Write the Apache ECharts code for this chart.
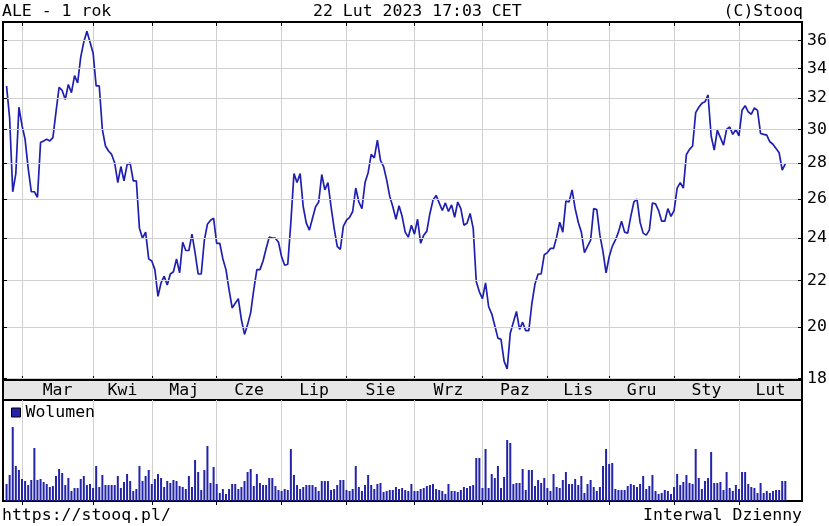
<!DOCTYPE html>
<html>
<head>
<meta charset="utf-8">
<script src="https://cdn.jsdelivr.net/npm/echarts@6/dist/echarts.min.js"></script>
<style>
html,body{margin:0;padding:0;background:#fff;}
#chart{width:829px;height:526px;}
</style>
</head>
<body>
<div id="chart"></div>
<script>
// ---------- data ----------
const firstDay = '2022-02-22';
const lastDay = '2023-02-22';
const holidays = ['2022-04-15','2022-04-18','2022-05-03','2022-06-16','2022-08-15','2022-11-01','2022-11-11','2022-12-26','2023-01-06'];
const monthNames = ['Sty','Lut','Mar','Kwi','Maj','Cze','Lip','Sie','Wrz','Paz','Lis','Gru'];
const priceTicks = [18,20,22,24,26,28,30,32,34,36];

const close = [
32.8,30.7,26.4,27.4,31.4,30.25,29.4,27.7,26.4,26.4,
26.1,29.2,29.3,29.4,29.3,29.5,31.1,32.7,32.5,31.9,
32.9,32.35,33.5,33.0,34.8,35.9,36.7,35.9,35.1,32.8,
32.8,30.0,29.0,28.7,28.5,28.0,26.9,27.8,27.0,27.9,
28.0,27.0,27.0,24.5,24.0,24.3,23.0,22.9,22.5,21.3,
21.9,22.2,21.8,22.3,22.4,23.0,22.35,23.8,23.4,23.4,
24.2,23.3,22.3,22.3,23.9,24.7,24.9,25.0,23.75,23.75,
23.0,22.5,21.6,20.8,21.0,21.2,20.3,19.7,20.1,20.6,
21.6,22.5,22.5,22.9,23.5,24.05,24.0,24.0,23.8,23.1,
22.7,22.75,24.8,27.4,26.9,27.4,25.6,24.75,24.4,25.0,
25.6,25.85,27.35,26.5,26.9,25.6,24.5,23.6,23.45,24.6,
24.9,25.05,25.35,26.6,25.85,25.5,26.9,27.45,28.5,28.3,
29.35,28.15,27.8,27.05,26.15,25.6,24.95,25.65,25.1,24.3,
24.05,24.65,24.2,24.95,23.75,24.15,24.35,25.25,25.95,26.2,
25.8,25.4,25.8,25.35,25.7,25.05,25.85,25.5,24.65,24.75,
25.25,24.5,21.95,21.5,21.2,21.9,20.85,20.55,20.05,19.55,
19.5,18.65,18.35,19.75,20.2,20.65,19.9,20.2,19.85,19.85,
21.0,21.85,22.3,22.3,23.2,23.3,23.5,23.5,24.05,24.8,
24.3,25.9,25.85,26.5,25.5,24.8,24.3,23.3,23.6,23.9,
25.5,25.45,24.15,23.35,22.35,23.1,23.6,23.9,24.3,24.85,
24.3,24.25,25.1,25.85,26.0,24.8,24.25,24.15,24.4,25.8,
25.75,25.4,24.85,24.85,25.5,25.1,25.4,26.6,26.9,26.6,
28.5,28.8,29.0,31.05,31.4,31.65,31.75,32.2,29.6,28.75,
29.95,29.5,29.05,30.0,30.15,29.7,30.0,29.6,31.2,31.5,
31.1,30.95,31.35,31.2,29.75,29.7,29.65,29.25,29.1,28.85,
28.6,27.6,27.95
];

const volume = [
17,26,74,35,31,22,20,16,21,53,
21,22,19,17,14,15,25,32,28,16,
23,10,13,13,22,25,16,17,13,35,
14,26,16,16,16,16,25,13,19,27,
20,10,12,35,20,25,31,17,22,27,
23,14,20,18,21,20,15,14,12,25,
14,41,29,11,31,55,18,34,17,8,
12,7,12,17,17,12,14,20,29,32,
15,27,18,16,16,23,23,15,11,10,
12,11,52,26,16,12,14,16,16,16,
14,10,20,20,20,11,12,16,21,21,
11,10,12,35,14,10,16,26,16,12,
17,18,9,10,11,11,14,12,13,11,
10,
17,10,10,12,13,15,16,17,12,11,
10,7,17,10,10,9,11,14,13,15,
16,43,43,13,52,13,27,23,35,13,
24,61,58,17,18,18,32,11,31,31,
15,21,18,23,13,10,27,14,13,21,
29,17,17,22,16,25,8,17,21,14,
10,14,35,52,37,38,12,11,11,11,
15,17,16,14,17,25,12,15,26,10,
7,8,11,10,7,14,27,16,19,26,
18,17,52,23,12,20,23,49,18,18,
19,11,29,13,10,16,12,29,29,17,
14,13,8,18,8,10,8,10,11,11,
20,20
];

// ---------- trading-day categories ----------
function ymd(d){return d.toISOString().slice(0,10);}
const dates = [];
{
  const end = new Date(lastDay + 'T00:00:00Z');
  for (let d = new Date(firstDay + 'T00:00:00Z'); d <= end; d = new Date(d.getTime() + 86400000)) {
    const wd = d.getUTCDay();
    if (wd === 0 || wd === 6) continue;
    const s = ymd(d);
    if (holidays.indexOf(s) >= 0) continue;
    dates.push(s);
  }
}

// layout of the x scale (index units)
const xMin = -1.15, xMax = 257.4;

const monthStarts = [];
const monthStartNames = [];
for (let i = 1; i < dates.length; i++) {
  if (dates[i].slice(5,7) !== dates[i-1].slice(5,7)) {
    monthStarts.push(i);
    monthStartNames.push(monthNames[parseInt(dates[i].slice(5,7),10)-1]);
  }
}
const labelPos = [];
const labelName = {};
for (let k = 0; k < monthStarts.length; k++) {
  const a = monthStarts[k];
  const b = k + 1 < monthStarts.length ? monthStarts[k+1] : xMax;
  const p = (a + b) / 2;
  labelPos.push(p);
  labelName[p.toFixed(3)] = monthStartNames[k];
}

const FONT = "'DejaVu Sans Mono', 'Liberation Mono', monospace";
const FS = 16.5;
const textStyle = {fontFamily: FONT, fontSize: FS, fontWeight: 'normal', color: '#000'};

const priceData = close.map((v, i) => [i, v]);
const volData = volume.map((v, i) => [i, v]);

const gridLineMarks = priceTicks.map(v => ({yAxis: v}));
const tickMarks = [];
priceTicks.forEach(v => {
  tickMarks.push([{coord: [xMin, v]}, {coord: [xMin + 1.3, v]}]);
  tickMarks.push([{coord: [xMax - 1.3, v]}, {coord: [xMax, v]}]);
});

const chart = echarts.init(document.getElementById('chart'), null, {renderer: 'canvas'});
chart.setOption({
  animation: false,
  backgroundColor: '#ffffff',
  title: [
    {text: 'ALE - 1 rok', left: 2, top: 3, padding: 0, textStyle},
    {text: '22 Lut 2023 17:03 CET', left: 313, top: 3, padding: 0, textStyle},
    {text: '(C)Stooq', right: 26, top: 3, padding: 0, textStyle},
    {text: 'https://stooq.pl/', left: 2, top: 507, padding: 0, textStyle},
    {text: 'Interwal Dzienny', right: 27, top: 507, padding: 0, textStyle}
  ],
  legend: {
    data: ['Wolumen'], left: 11, top: 404, padding: 0, selectedMode: false,
    icon: 'rect', itemWidth: 9, itemHeight: 9, itemGap: 5,
    itemStyle: {borderColor: '#000', borderWidth: 1},
    textStyle: {fontFamily: FONT, fontSize: FS, color: '#000'}
  },
  graphic: [
    {type: 'rect', z: -1, shape: {x: 3, y: 380, width: 799, height: 20},
     style: {fill: '#e6e6e6', stroke: '#000', lineWidth: 2}}
  ],
  grid: [
    {left: 3, top: 22, width: 799, height: 358, show: true, borderColor: '#000', borderWidth: 2, backgroundColor: 'rgba(0,0,0,0)'},
    {left: 3, top: 400, width: 799, height: 101, show: true, borderColor: '#000', borderWidth: 2, backgroundColor: 'rgba(0,0,0,0)'}
  ],
  xAxis: [
    {gridIndex: 0, type: 'value', min: xMin, max: xMax, position: 'bottom',
     axisLine: {show: false},
     axisTick: {show: true, inside: true, length: 4, customValues: monthStarts, lineStyle: {color: '#000', width: 1}},
     splitLine: {show: true, lineStyle: {color: '#d0d0d0', width: 1}},
     axisLabel: {show: true, customValues: labelPos, margin: 2, fontFamily: FONT, fontSize: FS, color: '#000',
                 formatter: v => labelName[Number(v).toFixed(3)] || ''}},
    {gridIndex: 0, type: 'value', min: xMin, max: xMax, position: 'top',
     axisLine: {show: false},
     axisTick: {show: true, inside: true, length: 4, customValues: monthStarts, lineStyle: {color: '#000', width: 1}},
     splitLine: {show: false}, axisLabel: {show: false}},
    {gridIndex: 1, type: 'value', min: xMin, max: xMax, position: 'top',
     axisLine: {show: false},
     axisTick: {show: true, inside: true, length: 4, customValues: monthStarts, lineStyle: {color: '#000', width: 1}},
     splitLine: {show: true, lineStyle: {color: '#d0d0d0', width: 1}},
     axisLabel: {show: false}}
  ],
  yAxis: [
    {gridIndex: 0, type: 'log', logBase: 10, min: 17.94, max: 37.4, position: 'right',
     axisLine: {show: false}, axisTick: {show: false}, axisLabel: {show: false}, splitLine: {show: false}},
    {gridIndex: 1, type: 'value', min: 0, max: 101, show: false, splitLine: {show: false}}
  ],
  series: [
    {name: 'siatka', type: 'line', xAxisIndex: 0, yAxisIndex: 0, data: priceData, z: 1, silent: true,
     symbol: 'none', lineStyle: {opacity: 0}, tooltip: {show: false},
     markLine: {
       silent: true, symbol: ['none','none'], animation: false,
       lineStyle: {color: '#d0d0d0', width: 1, type: 'solid'},
       label: {show: true, position: 'end', distance: 5, formatter: p => String(p.value),
               fontFamily: FONT, fontSize: FS, color: '#000'},
       emphasis: {disabled: true},
       data: gridLineMarks
     }},
    {name: 'znaczniki', type: 'line', xAxisIndex: 0, yAxisIndex: 0, data: priceData, z: 1, silent: true,
     symbol: 'none', lineStyle: {opacity: 0},
     markLine: {
       silent: true, symbol: ['none','none'], animation: false,
       lineStyle: {color: '#000', width: 1, type: 'solid'},
       label: {show: false},
       emphasis: {disabled: true},
       data: tickMarks
     }},
    {name: 'ALE', type: 'line', xAxisIndex: 0, yAxisIndex: 0, data: priceData, z: 3,
     symbol: 'none', lineStyle: {color: '#2020b0', width: 1.7}},
    {name: 'Wolumen', type: 'bar', xAxisIndex: 2, yAxisIndex: 1, data: volData, barWidth: 2,
     itemStyle: {color: '#2424a8'}}
  ]
});
</script>
</body>
</html>
